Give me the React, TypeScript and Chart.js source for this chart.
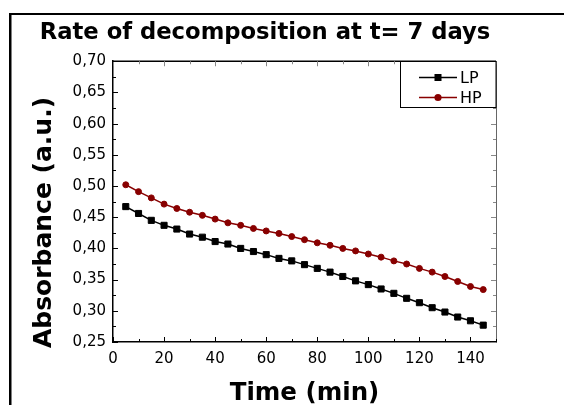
import React, { useEffect, useRef } from "react";
import { Chart, registerables } from "chart.js";

Chart.register(...registerables);

const TITLE = "Rate of decomposition at t= 7 days";
const X_TITLE = "Time (min)";
const Y_TITLE = "Absorbance (a.u.)";

const times = [5, 10, 15, 20, 25, 30, 35, 40, 45, 50, 55, 60, 65, 70, 75, 80, 85, 90, 95, 100, 105, 110, 115, 120, 125, 130, 135, 140, 145];
const lpValues = [0.467, 0.456, 0.445, 0.437, 0.431, 0.423, 0.418, 0.411, 0.407, 0.4, 0.395, 0.39, 0.384, 0.38, 0.374, 0.368, 0.362, 0.355, 0.348, 0.342, 0.335, 0.328, 0.32, 0.313, 0.305, 0.298, 0.29, 0.284, 0.277];
const hpValues = [0.502, 0.491, 0.481, 0.471, 0.464, 0.458, 0.453, 0.447, 0.441, 0.437, 0.432, 0.428, 0.424, 0.419, 0.414, 0.409, 0.405, 0.4, 0.396, 0.391, 0.386, 0.38, 0.375, 0.368, 0.362, 0.355, 0.347, 0.339, 0.334];
const seriesNames = ["LP", "HP"];
const seriesColors = ["#000000", "#880000"];
const seriesStyles = ["rect", "circle"];

const X_MIN = 0;
const X_MAX = 150;
const X_STEP = 10;
const Y_MIN = 0.25;
const Y_MAX = 0.7;
const Y_STEP = 0.025;

const FONT = "'DejaVu Sans', sans-serif";

const decorPlugin = {
  id: "decor",
  beforeDraw(chart: any) {
    const ctx = chart.ctx;
    ctx.save();
    ctx.fillStyle = "#000";
    ctx.fillRect(9, 13, 600, 2);
    ctx.fillRect(9, 13, 2.5, 500);
    ctx.restore();
  },
  afterDatasetsDraw(chart: any) {
    const ctx = chart.ctx;
    const { left, right, top, bottom } = chart.chartArea;
    const xs = chart.scales.x;
    const ys = chart.scales.y;
    ctx.save();
    // top border
    ctx.strokeStyle = "#000";
    ctx.lineWidth = 1.5;
    ctx.beginPath();
    ctx.moveTo(left, top);
    ctx.lineTo(right, top);
    ctx.stroke();
    // ticks
    ctx.lineWidth = 1;
    xs.ticks.forEach((t: any) => {
      const px = Math.round(xs.getPixelForValue(t.value)) + 0.5;
      const major = t.value % 20 === 0;
      const len = major ? 5 : 3;
      ctx.strokeStyle = "#000";
      ctx.beginPath();
      ctx.moveTo(px, bottom);
      ctx.lineTo(px, bottom - len);
      ctx.stroke();
      ctx.strokeStyle = "#888";
      ctx.beginPath();
      ctx.moveTo(px, top);
      ctx.lineTo(px, top + len);
      ctx.stroke();
    });
    ys.ticks.forEach((t: any) => {
      const py = Math.round(ys.getPixelForValue(t.value)) + 0.5;
      const major = Math.round(t.value * 1000) % 50 === 0;
      const len = major ? 5 : 3;
      ctx.strokeStyle = "#000";
      ctx.beginPath();
      ctx.moveTo(left, py);
      ctx.lineTo(left + len, py);
      ctx.stroke();
      ctx.strokeStyle = "#888";
      ctx.beginPath();
      ctx.moveTo(right, py);
      ctx.lineTo(right - len, py);
      ctx.stroke();
    });

    // legend
    const bx = 400.5;
    const by = Math.round(top) + 0.5;
    ctx.fillStyle = "#fff";
    ctx.fillRect(bx, by, right - bx, 46);
    ctx.strokeStyle = "#000";
    ctx.lineWidth = 1;
    ctx.strokeRect(bx, by, right - bx, 46);
    const rows = [by + 16, by + 36];
    seriesNames.forEach((name, i) => {
      const y = rows[i];
      const c = seriesColors[i];
      ctx.strokeStyle = c;
      ctx.fillStyle = c;
      ctx.lineWidth = 1.5;
      ctx.beginPath();
      ctx.moveTo(419, y);
      ctx.lineTo(457, y);
      ctx.stroke();
      if (seriesStyles[i] === "rect") {
        ctx.fillRect(438 - 3.5, y - 3.5, 7, 7);
      } else {
        ctx.beginPath();
        ctx.arc(438, y, 3.6, 0, Math.PI * 2);
        ctx.fill();
      }
      ctx.fillStyle = "#000";
      ctx.font = `16px ${FONT}`;
      ctx.textAlign = "left";
      ctx.textBaseline = "middle";
      ctx.fillText(name, 460, y + 1);
    });

    // y axis title
    ctx.save();
    ctx.translate(44, 222.5);
    ctx.rotate(-Math.PI / 2);
    ctx.font = `bold 25px ${FONT}`;
    ctx.fillStyle = "#000";
    ctx.textAlign = "center";
    ctx.textBaseline = "middle";
    ctx.fillText(Y_TITLE, 0, 0);
    ctx.restore();
    ctx.restore();
  },
};

export default function App() {
  const canvasRef = useRef<HTMLCanvasElement | null>(null);

  useEffect(() => {
    if (!canvasRef.current) return;
    const datasets = [lpValues, hpValues].map((vals, i) => ({
      label: seriesNames[i],
      data: times.map((t, j) => ({ x: t, y: vals[j] })),
      borderColor: seriesColors[i],
      backgroundColor: seriesColors[i],
      borderWidth: 1.5,
      pointStyle: seriesStyles[i] as any,
      pointRadius: i === 0 ? 4.3 : 3,
      pointBorderWidth: 1,
      pointBorderColor: seriesColors[i],
      pointBackgroundColor: seriesColors[i],
      tension: 0,
      fill: false,
    }));

    const chart = new Chart(canvasRef.current, {
      type: "line",
      data: { datasets },
      plugins: [decorPlugin],
      options: {
        animation: false,
        responsive: false,
        devicePixelRatio: 1,
        layout: { padding: { left: 0, right: 34, top: 0, bottom: 0 } },
        plugins: {
          legend: { display: false },
          tooltip: { enabled: false },
          title: {
            display: true,
            text: TITLE,
            color: "#000",
            font: { family: FONT, size: 22.7, weight: "bold" },
            padding: { top: 19, bottom: 15 },
          },
        },
        scales: {
          x: {
            type: "linear",
            position: "bottom",
            min: X_MIN,
            max: X_MAX,
            afterFit: (s: any) => {
              s.height = 63;
            },
            ticks: {
              stepSize: X_STEP,
              autoSkip: false,
              maxRotation: 0,
              padding: 8,
              color: "#000",
              font: { family: FONT, size: 15 },
              callback: (v: any) => (v % 20 === 0 && v <= 140 ? String(v) : ""),
            },
            grid: { display: false, drawTicks: false },
            border: { display: true, color: "#000", width: 1.5 },
            title: {
              display: true,
              text: X_TITLE,
              color: "#000",
              font: { family: FONT, size: 24.5, weight: "bold", lineHeight: 0.9 },
              padding: { top: 0, bottom: 0 },
            },
          },
          y: {
            type: "linear",
            position: "left",
            min: Y_MIN,
            max: Y_MAX,
            afterFit: (s: any) => {
              s.width = 113;
            },
            ticks: {
              stepSize: Y_STEP,
              autoSkip: false,
              padding: 7,
              color: "#000",
              font: { family: FONT, size: 15 },
              callback: (v: any) =>
                Math.round(v * 1000) % 50 === 0 ? Number(v).toFixed(2).replace(".", ",") : "",
            },
            grid: { display: false, drawTicks: false },
            border: { display: true, color: "#000", width: 1.5 },
          },
          y2: {
            type: "linear",
            position: "right",
            min: Y_MIN,
            max: Y_MAX,
            afterFit: (s: any) => {
              s.width = 34;
            },
            ticks: { display: false },
            grid: { display: false, drawTicks: false },
            border: { display: true, color: "#666", width: 1 },
          },
        },
      } as any,
    });
    return () => chart.destroy();
  }, []);

  return (
    <div style={{ position: "fixed", left: 0, top: 0, width: 564, height: 405, background: "#fff" }}>
      <canvas ref={canvasRef} width={564} height={405} style={{ display: "block" }} />
    </div>
  );
}
